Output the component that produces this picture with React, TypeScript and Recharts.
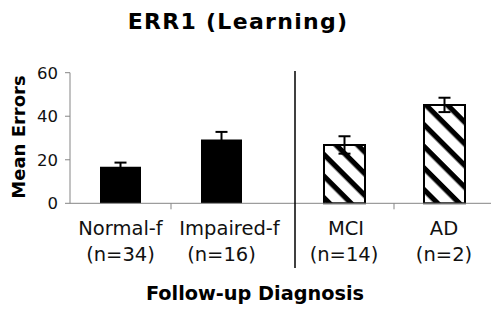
import { Bar, BarChart, ErrorBar, XAxis, YAxis } from "recharts";

const leftGroups = ["Normal-f", "Impaired-f"];
const leftCounts = ["(n=34)", "(n=16)"];
const leftMeans = [16.8, 29.3];
const leftErrors = [1.9, 3.5];

const rightGroups = ["MCI", "AD"];
const rightCounts = ["(n=14)", "(n=2)"];
const rightMeans = [26.8, 45.2];
const rightErrors = [4.0, 3.3];

const yTicks = [0, 20, 40, 60];

const FONT = "'DejaVu Sans', Verdana, sans-serif";
const AXIS = "#858585";

const leftData = leftGroups.map((name, i) => ({
  name,
  count: leftCounts[i],
  mean: leftMeans[i],
  err: leftErrors[i],
}));
const rightData = rightGroups.map((name, i) => ({
  name,
  count: rightCounts[i],
  mean: rightMeans[i],
  err: rightErrors[i],
}));

// Excel nudges some first-line labels sideways; mimic per chart
function CategoryTick(props: any) {
  const { x, y, payload, counts, nudge = [] } = props;
  const half = payload.offset ?? 0;
  const dx = nudge[payload.index] ?? 0;
  return (
    <g>
      {payload.index === 0 && (
        <line x1={x + half} y1={y} x2={x + half} y2={y + 6} stroke={AXIS} strokeWidth={1} />
      )}
      <text x={x} y={y} textAnchor="middle" fontSize={19.5} fontFamily={FONT} fill="#111">
        <tspan x={x + dx} dy={31.8}>{payload.value}</tspan>
        <tspan x={x} dy={26}>{counts[payload.index]}</tspan>
      </text>
    </g>
  );
}

const W = 491;
const H = 310;
const top = 72.7;
const bottom = 76.7;

export default function App() {
  return (
    <div
      style={{
        position: "absolute",
        left: 0,
        top: 0,
        width: W,
        height: H,
        overflow: "hidden",
        background: "#fff",
      }}
    >
      <div style={{ position: "absolute", left: 0, top: 0 }}>
        <BarChart
          width={W}
          height={H}
          data={leftData}
          margin={{ top, right: W - 294, bottom, left: 0 }}
          barSize={41}
        >
          <XAxis
            dataKey="name"
            height={30}
            padding={{ left: 0, right: 22 }}
            stroke={AXIS}
            tickLine={false}
            tickSize={0}
            tickMargin={0}
            interval={0}
            tick={<CategoryTick counts={leftCounts} nudge={[0, 8]} />}
          />
          <YAxis
            width={70}
            domain={[0, 60]}
            ticks={yTicks}
            stroke={AXIS}
            tickSize={5}
            tickMargin={7}
            tick={{ fill: "#111", fontSize: 16.5, fontFamily: FONT }}
          />
          <Bar dataKey="mean" fill="#000" isAnimationActive={false}>
            <ErrorBar dataKey="err" width={6} strokeWidth={2} stroke="#000" />
          </Bar>
        </BarChart>
      </div>
      <div style={{ position: "absolute", left: 0, top: 0 }}>
        <BarChart
          width={520}
          height={H}
          data={rightData}
          margin={{ top, right: 520 - 494, bottom, left: 294 }}
          barSize={41}
        >
          <defs>
            <pattern
              id="hatch"
              patternUnits="userSpaceOnUse"
              width={15.3}
              height={15.3}
              patternTransform="rotate(45)"
            >
              <rect x={0} y={0} width={15.3} height={15.3} fill="#fff" />
              <rect x={0} y={0} width={15.3} height={5.2} fill="#000" />
            </pattern>
          </defs>
          <XAxis
            dataKey="name"
            height={30}
            stroke={AXIS}
            tickLine={false}
            tickSize={0}
            tickMargin={0}
            interval={0}
            tick={<CategoryTick counts={rightCounts} nudge={[2, 0]} />}
          />
          <YAxis hide domain={[0, 60]} ticks={yTicks} />
          <Bar dataKey="mean" fill="url(#hatch)" stroke="#000" strokeWidth={2} isAnimationActive={false}>
            <ErrorBar dataKey="err" width={6} strokeWidth={2} stroke="#000" />
          </Bar>
        </BarChart>
      </div>
      <svg
        width={W}
        height={H}
        style={{ position: "absolute", left: 0, top: 0, pointerEvents: "none" }}
        fontFamily={FONT}
      >
        <text
          x={238}
          y={28.5}
          textAnchor="middle"
          fontSize={22}
          fontWeight="bold"
          letterSpacing={1.3}
          fill="#000"
        >
          ERR1 (Learning)
        </text>
        <text
          x={25}
          y={137}
          transform="rotate(-90 25 137)"
          textAnchor="middle"
          fontSize={18}
          fontWeight="bold"
          fill="#000"
        >
          Mean Errors
        </text>
        <text x={255} y={300} textAnchor="middle" fontSize={19.3} fontWeight="bold" fill="#000">
          Follow-up Diagnosis
        </text>
        <line x1={295} y1={71} x2={295} y2={268} stroke="#000" strokeWidth={1.5} />
      </svg>
    </div>
  );
}
